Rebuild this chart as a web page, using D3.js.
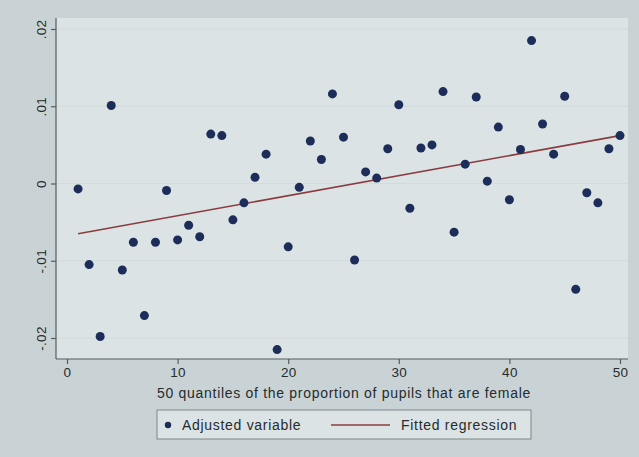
<!DOCTYPE html>
<html>
<head>
<meta charset="utf-8">
<script src="https://cdn.jsdelivr.net/npm/d3@7"></script>
<style>
  body { margin: 0; background: #c9d3d6; }
  svg { display: block; font-family: "Liberation Sans", Arial, sans-serif; }
</style>
</head>
<body>
<svg width="639" height="457"></svg>
<script>
// 50 quantiles and the adjusted variable
const quantiles = d3.range(1, 51);
const adjusted = [
  -0.0007, -0.0105, -0.0198, 0.0101, -0.0112, -0.0076, -0.0171, -0.0076, -0.0009, -0.0073,
  -0.0054, -0.0069, 0.0064, 0.0062, -0.0047, -0.0025, 0.0008, 0.0038, -0.0215, -0.0082,
  -0.0005, 0.0055, 0.0031, 0.0116, 0.0060, -0.0099, 0.0015, 0.0007, 0.0045, 0.0102,
  -0.0032, 0.0046, 0.0050, 0.0119, -0.0063, 0.0025, 0.0112, 0.0003, 0.0073, -0.0021,
  0.0044, 0.0185, 0.0077, 0.0038, 0.0113, -0.0137, -0.0012, -0.0025, 0.0045, 0.0062
];
// fitted regression line endpoints
const fitX = [1, 50];
const fitY = [-0.0065, 0.0062];

const xTicks = [0, 10, 20, 30, 40, 50];
const yTicks = [-0.02, -0.01, 0, 0.01, 0.02];
const yTickLabels = ['-.02', '-.01', '0', '.01', '.02'];
const xTitle = '50 quantiles of the proportion of pupils that are female';
const legendLabels = ['Adjusted variable', 'Fitted regression'];

const svg = d3.select('svg');
const plot = { left: 56, right: 628, top: 18, bottom: 359 };

const xScale = d3.scaleLinear().domain([0, 50]).range([67, 620]);
const yScale = d3.scaleLinear().domain([-0.02, 0.02]).range([338, 29]);

const navy = '#1c2d5a';
const maroon = '#8a3c40';
const axisColor = '#555d60';
const textColor = '#262b2d';

// plot area
svg.append('rect')
  .attr('x', plot.left).attr('y', plot.top)
  .attr('width', plot.right - plot.left).attr('height', plot.bottom - plot.top)
  .attr('fill', '#dbe3e4');

// faint gridlines
svg.append('g')
  .selectAll('line').data(yTicks).enter().append('line')
    .attr('x1', plot.left).attr('x2', plot.right)
    .attr('y1', d => yScale(d)).attr('y2', d => yScale(d))
    .attr('stroke', '#d2dadc').attr('stroke-width', 1);

// axes
const xAxis = d3.axisBottom(xScale).tickValues(xTicks).tickSize(5).tickPadding(3)
  .tickFormat(d3.format('d'));
const xAxisG = svg.append('g')
  .attr('transform', `translate(0,${plot.bottom})`)
  .call(xAxis);
xAxisG.select('.domain').attr('d', `M${plot.left},0H${plot.right}`);

const yAxis = d3.axisLeft(yScale).tickValues(yTicks).tickSize(5)
  .tickFormat((d, i) => yTickLabels[i]);
const yAxisG = svg.append('g')
  .attr('transform', `translate(${plot.left},0)`)
  .call(yAxis);
yAxisG.select('.domain').attr('d', `M0,${plot.top}V${plot.bottom}`);
yAxisG.selectAll('.tick text')
  .attr('x', 0).attr('dy', null)
  .attr('text-anchor', 'middle')
  .attr('transform', 'translate(-10,0) rotate(-90)');

[xAxisG, yAxisG].forEach(g => {
  g.selectAll('.domain, .tick line').attr('stroke', axisColor).attr('stroke-width', 1.2);
  g.selectAll('.tick text').attr('fill', textColor).attr('font-size', 13.5)
    .attr('letter-spacing', 0.3)
    .attr('font-family', '"Liberation Sans", Arial, sans-serif');
});

// regression line
const line = d3.line().x((d, i) => xScale(fitX[i])).y(d => yScale(d));
svg.append('path')
  .datum(fitY)
  .attr('d', line)
  .attr('fill', 'none')
  .attr('stroke', maroon)
  .attr('stroke-width', 1.6);

// points
svg.append('g')
  .selectAll('circle').data(adjusted).enter().append('circle')
    .attr('cx', (d, i) => xScale(quantiles[i]))
    .attr('cy', d => yScale(d))
    .attr('r', 4.5)
    .attr('fill', navy);

// x title
svg.append('text')
  .attr('x', 344).attr('y', 398)
  .attr('text-anchor', 'middle')
  .attr('font-size', 14)
  .attr('letter-spacing', 0.7)
  .attr('fill', textColor)
  .text(xTitle);

// legend
const legend = svg.append('g');
legend.append('rect')
  .attr('x', 157).attr('y', 410).attr('width', 374).attr('height', 29)
  .attr('fill', '#dbe3e4').attr('stroke', '#7f888b').attr('stroke-width', 1);
legend.append('circle')
  .attr('cx', 168).attr('cy', 425).attr('r', 3.2).attr('fill', navy);
legend.append('text')
  .attr('x', 182).attr('y', 430).attr('font-size', 14).attr('letter-spacing', 0.7)
  .attr('fill', textColor)
  .text(legendLabels[0]);
legend.append('line')
  .attr('x1', 331).attr('x2', 390).attr('y1', 425).attr('y2', 425)
  .attr('stroke', maroon).attr('stroke-width', 1.4);
legend.append('text')
  .attr('x', 401).attr('y', 430).attr('font-size', 14).attr('letter-spacing', 0.7)
  .attr('fill', textColor)
  .text(legendLabels[1]);
</script>
</body>
</html>
